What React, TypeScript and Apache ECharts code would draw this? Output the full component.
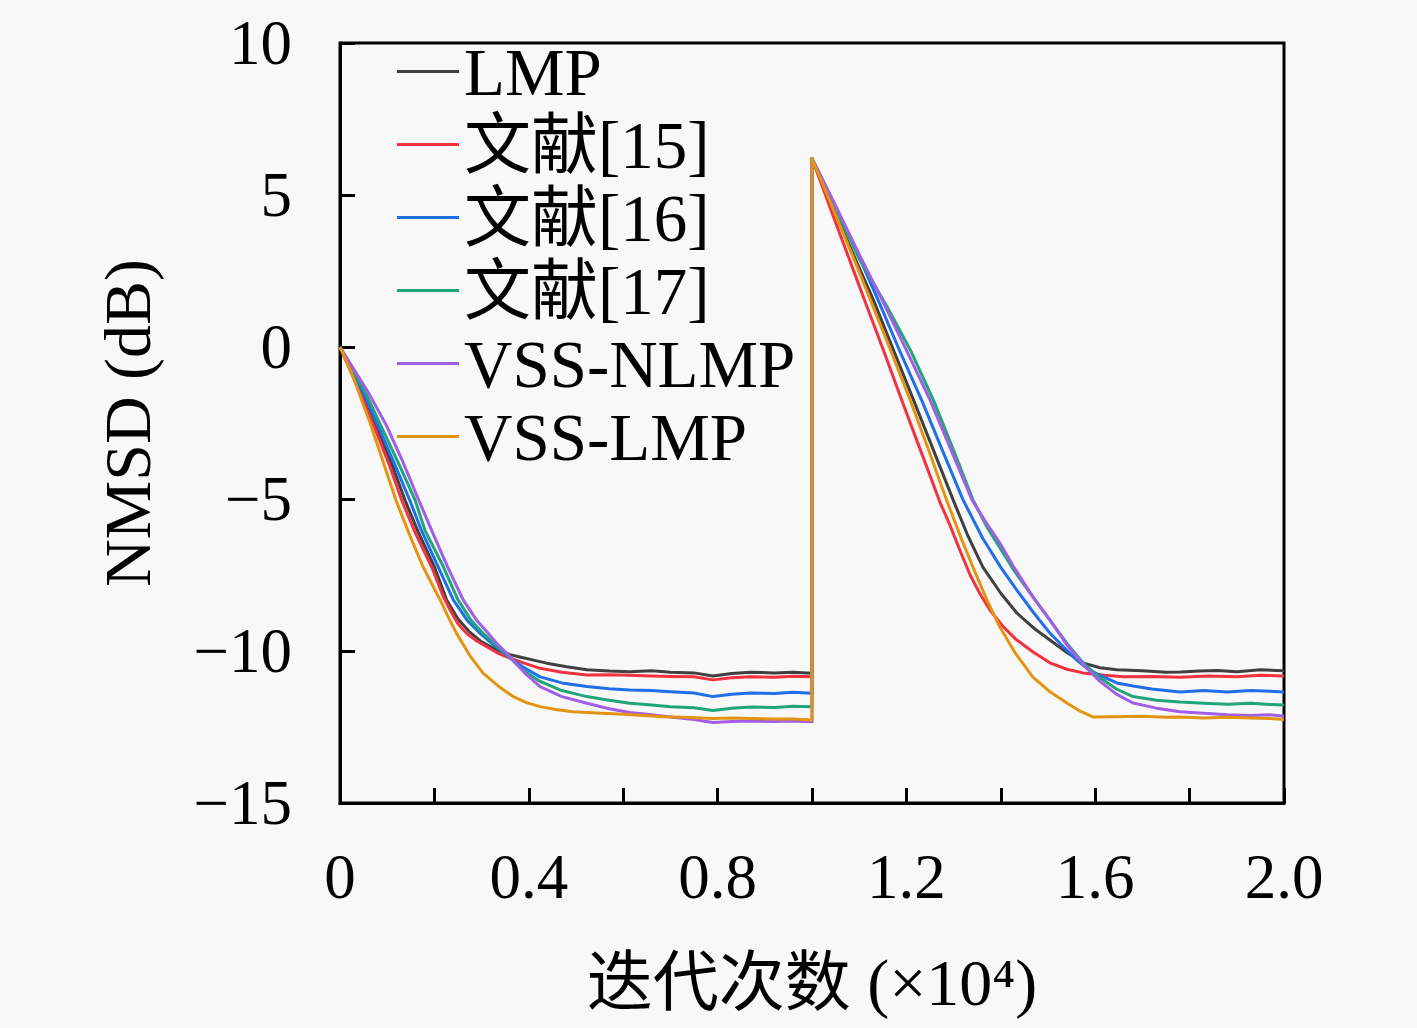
import React, { useEffect, useRef } from "react";
import * as echarts from "echarts";

const seriesNames = ["LMP", "文献[15]", "文献[16]", "文献[17]", "VSS-NLMP", "VSS-LMP"];
const seriesColors = ["#404040", "#f2333f", "#1f6fe8", "#20a57a", "#a35ee6", "#e39412"];

const xTicks = [0, 0.4, 0.8, 1.2, 1.6, 2.0];
const yTicks = [-15, -10, -5, 0, 5, 10];

const lmp: number[][] = [
  [0, 0], [0.049, -1.63], [0.08, -2.75], [0.112, -3.95], [0.138, -5.05], [0.166, -6.1], [0.2, -7.23],
  [0.226, -8.32], [0.25, -8.95], [0.275, -9.38], [0.3, -9.7], [0.33, -9.95], [0.36, -10.12],
  [0.381, -10.2], [0.41, -10.3], [0.438, -10.4], [0.48, -10.52], [0.523, -10.62], [0.57, -10.66],
  [0.614, -10.68], [0.66, -10.65], [0.7, -10.7], [0.75, -10.72], [0.79, -10.82], [0.83, -10.74],
  [0.87, -10.7], [0.92, -10.72], [0.96, -10.7], [1.0, -10.73],
  [1.0, 6.2], [1.05, 4.4], [1.1, 2.6], [1.13, 1.55], [1.17, 0.0], [1.215, -1.74], [1.26, -3.5],
  [1.299, -5.03], [1.33, -6.2], [1.362, -7.24], [1.4, -8.1], [1.434, -8.75], [1.47, -9.25],
  [1.504, -9.64], [1.54, -10.05], [1.574, -10.39], [1.61, -10.55], [1.646, -10.62], [1.7, -10.65],
  [1.75, -10.7], [1.78, -10.69], [1.82, -10.66], [1.86, -10.64], [1.9, -10.68], [1.95, -10.62],
  [2.0, -10.65],
];

const ref15: number[][] = [
  [0, 0], [0.046, -1.63], [0.076, -2.75], [0.106, -3.95], [0.131, -5.05], [0.159, -6.1], [0.194, -7.23],
  [0.219, -8.21], [0.235, -8.7], [0.25, -9.1], [0.268, -9.42], [0.29, -9.67], [0.311, -9.86],
  [0.332, -10.05], [0.353, -10.19], [0.39, -10.4], [0.424, -10.57], [0.47, -10.7], [0.523, -10.79],
  [0.57, -10.78], [0.614, -10.8], [0.66, -10.82], [0.7, -10.84], [0.75, -10.85], [0.79, -10.95],
  [0.83, -10.88], [0.87, -10.85], [0.92, -10.86], [0.96, -10.83], [1.0, -10.85],
  [1.0, 6.2], [1.05, 4.1], [1.08, 2.85], [1.116, 1.35], [1.15, -0.05], [1.19, -1.74], [1.23, -3.4],
  [1.271, -5.1], [1.292, -5.85], [1.315, -6.75], [1.335, -7.5], [1.357, -8.15], [1.377, -8.65],
  [1.405, -9.2], [1.434, -9.64], [1.47, -10.05], [1.504, -10.39], [1.54, -10.6], [1.574, -10.72],
  [1.62, -10.8], [1.66, -10.85], [1.72, -10.84], [1.78, -10.86], [1.84, -10.82], [1.9, -10.85],
  [1.95, -10.8], [2.0, -10.82],
];

const ref16: number[][] = [
  [0, 0], [0.053, -1.63], [0.085, -2.75], [0.117, -3.9], [0.148, -5.05], [0.173, -6.05], [0.208, -7.23],
  [0.24, -8.32], [0.27, -9.0], [0.297, -9.42], [0.325, -9.8], [0.35, -10.1], [0.385, -10.5],
  [0.424, -10.85], [0.47, -11.05], [0.523, -11.17], [0.57, -11.24], [0.614, -11.28], [0.66, -11.3],
  [0.7, -11.34], [0.75, -11.38], [0.79, -11.5], [0.83, -11.42], [0.87, -11.38], [0.92, -11.4],
  [0.96, -11.36], [1.0, -11.39],
  [1.0, 6.2], [1.05, 4.6], [1.1, 2.95], [1.14, 1.55], [1.185, -0.1], [1.232, -1.74], [1.275, -3.35],
  [1.32, -5.03], [1.362, -6.3], [1.4, -7.25], [1.434, -8.0], [1.47, -8.75], [1.504, -9.41],
  [1.535, -9.9], [1.561, -10.3], [1.585, -10.6], [1.61, -10.8], [1.646, -11.05], [1.68, -11.15],
  [1.72, -11.25], [1.78, -11.35], [1.83, -11.3], [1.88, -11.35], [1.93, -11.3], [1.97, -11.32],
  [2.0, -11.35],
];

const ref17: number[][] = [
  [0, 0], [0.058, -1.63], [0.09, -2.7], [0.124, -3.83], [0.159, -5.03], [0.18, -6.03], [0.219, -7.23],
  [0.25, -8.32], [0.278, -9.0], [0.303, -9.42], [0.33, -9.8], [0.352, -10.1], [0.385, -10.6],
  [0.424, -11.0], [0.47, -11.3], [0.523, -11.5], [0.57, -11.62], [0.614, -11.72], [0.66, -11.78],
  [0.7, -11.83], [0.75, -11.87], [0.79, -11.96], [0.83, -11.88], [0.87, -11.84], [0.92, -11.86],
  [0.96, -11.82], [1.0, -11.83],
  [1.0, 6.2], [1.05, 4.55], [1.1, 2.9], [1.16, 1.3], [1.21, -0.15], [1.257, -1.74], [1.3, -3.4],
  [1.341, -5.03], [1.37, -5.9], [1.398, -6.6], [1.43, -7.4], [1.468, -8.22], [1.505, -9.0],
  [1.54, -9.75], [1.575, -10.4], [1.61, -10.88], [1.645, -11.25], [1.68, -11.5], [1.73, -11.62],
  [1.78, -11.68], [1.83, -11.72], [1.88, -11.75], [1.93, -11.72], [1.97, -11.76], [2.0, -11.78],
];

const vssNlmp: number[][] = [
  [0, 0], [0.062, -1.55], [0.099, -2.6], [0.131, -3.7], [0.17, -5.15], [0.196, -6.1], [0.228, -7.23],
  [0.261, -8.32], [0.29, -9.0], [0.314, -9.42], [0.335, -9.8], [0.355, -10.1], [0.39, -10.7],
  [0.424, -11.17], [0.47, -11.5], [0.523, -11.72], [0.57, -11.9], [0.614, -12.02], [0.66, -12.1],
  [0.7, -12.17], [0.75, -12.25], [0.79, -12.35], [0.83, -12.32], [0.87, -12.3], [0.92, -12.32],
  [0.96, -12.3], [1.0, -12.33],
  [1.0, 6.2], [1.05, 4.65], [1.1, 3.05], [1.15, 1.5], [1.2, -0.1], [1.25, -1.74], [1.295, -3.4],
  [1.339, -5.03], [1.37, -5.8], [1.398, -6.45], [1.43, -7.3], [1.468, -8.22], [1.505, -9.0],
  [1.54, -9.8], [1.575, -10.45], [1.61, -11.0], [1.645, -11.42], [1.68, -11.71], [1.73, -11.88],
  [1.78, -12.0], [1.83, -12.05], [1.88, -12.1], [1.93, -12.12], [1.97, -12.1], [2.0, -12.15],
];

const vssLmp: number[][] = [
  [0, 0], [0.025, -0.87], [0.064, -2.51], [0.095, -3.95], [0.12, -5.1], [0.148, -6.2], [0.176, -7.23],
  [0.212, -8.32], [0.23, -8.9], [0.247, -9.42], [0.275, -10.15], [0.303, -10.73], [0.335, -11.15],
  [0.367, -11.5], [0.395, -11.7], [0.424, -11.83], [0.46, -11.93], [0.494, -12.0], [0.544, -12.04],
  [0.6, -12.08], [0.645, -12.12], [0.685, -12.16], [0.73, -12.18], [0.79, -12.22], [0.83, -12.2],
  [0.87, -12.22], [0.92, -12.24], [0.96, -12.24], [1.0, -12.27],
  [1.0, 6.2], [1.05, 4.35], [1.09, 2.85], [1.125, 1.5], [1.165, -0.05], [1.208, -1.74], [1.245, -3.3],
  [1.285, -5.03], [1.315, -6.25], [1.341, -7.24], [1.37, -8.3], [1.398, -9.21], [1.43, -10.05],
  [1.468, -10.86], [1.505, -11.35], [1.54, -11.71], [1.568, -11.98], [1.595, -12.17], [1.64, -12.16],
  [1.7, -12.15], [1.75, -12.18], [1.78, -12.17], [1.83, -12.2], [1.88, -12.18], [1.93, -12.2],
  [1.97, -12.22], [2.0, -12.25],
];

const seriesData = [lmp, ref15, ref16, ref17, vssNlmp, vssLmp];

const FONT = "'Liberation Serif', 'DejaVu Serif', 'Noto Sans CJK SC', serif";
const BG = "#f8f8f8";

export default function App() {
  const ref = useRef<HTMLDivElement>(null);

  useEffect(() => {
    if (!ref.current) return;
    const chart = echarts.init(ref.current, undefined, { renderer: "svg" });
    const isTick = (arr: number[], v: number) => arr.some((t) => Math.abs(t - v) < 1e-6);
    chart.setOption({
      animation: false,
      backgroundColor: BG,
      textStyle: { fontFamily: FONT, color: "#000" },
      grid: {
        left: 340,
        top: 43,
        right: 133,
        bottom: 225,
        show: true,
        borderColor: "#000",
        borderWidth: 3,
        backgroundColor: BG,
      },
      legend: {
        orient: "vertical",
        left: 397,
        top: 38,
        padding: 0,
        icon: "rect",
        itemWidth: 62,
        itemHeight: 3,
        itemGap: 6,
        data: seriesNames,
        textStyle: { fontFamily: FONT, fontSize: 67, lineHeight: 67, color: "#000" },
      },
      xAxis: {
        type: "value",
        min: 0,
        max: 2.0,
        interval: 0.2,
        name: "迭代次数 (×10⁴)",
        nameLocation: "middle",
        nameGap: 146,
        nameTextStyle: { fontFamily: FONT, fontSize: 66, color: "#000" },
        axisLine: { show: true, onZero: false, lineStyle: { color: "#000", width: 3 } },
        axisTick: { show: true, inside: true, length: 15, lineStyle: { color: "#000", width: 3 } },
        splitLine: { show: false },
        axisLabel: {
          margin: 42,
          fontFamily: FONT,
          fontSize: 63,
          color: "#000",
          formatter: (v: number) => (isTick(xTicks, v) ? (v === 0 ? "0" : v.toFixed(1)) : ""),
        },
      },
      yAxis: {
        type: "value",
        min: -15,
        max: 10,
        interval: 5,
        name: "NMSD (dB)",
        nameLocation: "middle",
        nameGap: 180,
        nameRotate: 90,
        nameTextStyle: { fontFamily: FONT, fontSize: 66, color: "#000" },
        axisLine: { show: true, onZero: false, lineStyle: { color: "#000", width: 3 } },
        axisTick: { show: true, inside: true, length: 15, lineStyle: { color: "#000", width: 3 } },
        splitLine: { show: false },
        axisLabel: {
          margin: 48,
          fontFamily: FONT,
          fontSize: 63,
          color: "#000",
          formatter: (v: number) =>
            isTick(yTicks, v) ? (v < 0 ? "\u2212" + String(Math.abs(v)) : String(v)) : "",
        },
      },
      series: seriesNames.map((name, i) => ({
        name,
        type: "line",
        data: seriesData[i],
        showSymbol: false,
        symbol: "none",
        smooth: false,
        lineStyle: { color: seriesColors[i], width: 3, join: "round" },
        itemStyle: { color: seriesColors[i] },
        z: 2 + i,
      })),
    });
    return () => chart.dispose();
  }, []);

  return (
    <div
      ref={ref}
      style={{ position: "fixed", left: 0, top: 0, width: 1417, height: 1028, background: BG }}
    />
  );
}
